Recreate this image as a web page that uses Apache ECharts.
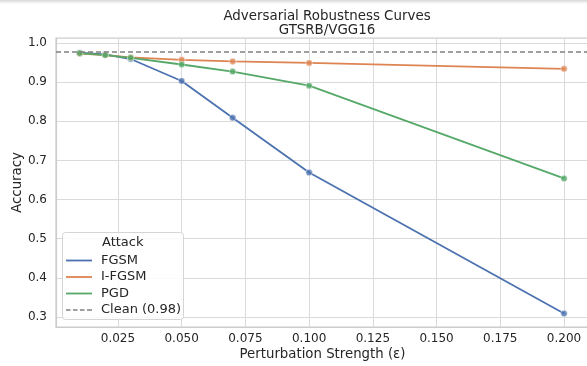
<!DOCTYPE html>
<html>
<head>
<meta charset="utf-8">
<script src="https://cdn.jsdelivr.net/npm/echarts@6/dist/echarts.min.js"></script>
<style>
    html, body { margin: 0; padding: 0; background: #fff; }
    #chart { width: 587px; height: 366px; }
</style>
</head>
<body>
<div id="chart"></div>
<script>
    // 扰动强度 (x)
    var eps = [0.01, 0.02, 0.03, 0.05, 0.07, 0.1, 0.2];
    // 各攻击下的准确率
    var fgsm  = [0.975, 0.971, 0.959, 0.903, 0.809, 0.669, 0.309];
    var ifgsm = [0.973, 0.969, 0.963, 0.957, 0.953, 0.949, 0.934];
    var pgd   = [0.974, 0.969, 0.962, 0.945, 0.927, 0.891, 0.654];
    var cleanAcc = 0.977;
    var attackNames = ['FGSM', 'I-FGSM', 'PGD'];
    var colors = ['#4C72B0', '#DD8452', '#55A868'];
    var xMin = 0.0007, xMax = 0.2098;
    var yMin = 0.2746, yMax = 1.0127;

    function pairs(ys) {
        var out = [];
        for (var i = 0; i < eps.length; i++) out.push([eps[i], ys[i]]);
        return out;
    }
    function near(v, step) {
        return Math.abs(v / step - Math.round(v / step)) < 1e-6;
    }

    var chart = echarts.init(document.getElementById('chart'));
    var font = 'DejaVu Sans';
    var txt = '#262626';
    var fs = 13;
    var cleanName = 'Clean (' + cleanAcc.toFixed(2) + ')';
    // 图例图标：实线 / 虚线
    var solidIcon = 'path://M0,0h26v1.8h-26z';
    var dashIcon = 'path://M0,0h4.5v1.5h-4.5z M7,0h4.5v1.5h-4.5z M14,0h4.5v1.5h-4.5z M21,0h5v1.5h-5z';

    var series = [];
    [fgsm, ifgsm, pgd].forEach(function (ys, k) {
        series.push({
            name: attackNames[k],
            type: 'line',
            data: pairs(ys),
            symbol: 'none',
            lineStyle: {color: colors[k], width: 1.8},
            itemStyle: {color: colors[k]},
            z: 3 + k * 2
        });
        series.push({
            name: attackNames[k] + '_pts',
            type: 'scatter',
            data: pairs(ys),
            symbolSize: 6.5,
            itemStyle: {color: colors[k], borderColor: '#fff', borderWidth: 0.6},
            z: 4 + k * 2
        });
    });
    // 干净样本准确率 (虚线)
    series.push({
        name: cleanName,
        type: 'line',
        data: [[xMin, cleanAcc], [xMax, cleanAcc]],
        symbol: 'none',
        lineStyle: {color: '#808080', width: 1.3, type: [5, 3]},
        itemStyle: {color: '#808080'},
        z: 10
    });

    var legendData = attackNames.map(function (n) { return {name: n, icon: solidIcon}; });
    legendData.push({name: cleanName, icon: dashIcon});

    chart.setOption({
        animation: false,
        backgroundColor: '#fff',
        textStyle: {fontFamily: font},
        title: {
            text: 'Adversarial Robustness Curves\nGTSRB/VGG16',
            left: 322,
            top: 5,
            textAlign: 'center',
            textStyle: {fontFamily: font, fontSize: 13.4, fontWeight: 'normal', color: txt, lineHeight: 14}
        },
        grid: {
            left: 56, right: -2, top: 38, bottom: 39,
            outerBoundsMode: 'none',
            containLabel: false,
            show: true, borderColor: '#cccccc', borderWidth: 1.2
        },
        xAxis: {
            type: 'value',
            min: xMin, max: xMax,
            minInterval: 0.025, maxInterval: 0.025,
            name: 'Perturbation Strength (ε)',
            nameLocation: 'middle',
            nameGap: 21,
            nameMoveOverlap: false,
            nameTextStyle: {fontFamily: font, fontSize: 13.3, color: txt},
            axisLine: {show: true, lineStyle: {color: '#cccccc', width: 1.2}},
            axisTick: {show: false},
            axisLabel: {
                fontFamily: font, fontSize: 12, color: txt, margin: 6,
                showMinLabel: false, showMaxLabel: false,
                formatter: function (v) { return near(v, 0.025) && v > 0.001 ? v.toFixed(3) : ''; }
            },
            splitLine: {show: true, lineStyle: {color: '#dadada', width: 1}}
        },
        yAxis: {
            type: 'value',
            min: yMin, max: yMax,
            minInterval: 0.1, maxInterval: 0.1,
            name: 'Accuracy',
            nameLocation: 'middle',
            nameGap: 32,
            nameMoveOverlap: false,
            nameTextStyle: {fontFamily: font, fontSize: 13.3, color: txt},
            axisLine: {show: true, lineStyle: {color: '#cccccc', width: 1.2}},
            axisTick: {show: false},
            axisLabel: {
                fontFamily: font, fontSize: 12, color: txt, margin: 9,
                showMinLabel: false, showMaxLabel: false,
                formatter: function (v) { return near(v, 0.1) ? v.toFixed(1) : ''; }
            },
            splitLine: {show: true, lineStyle: {color: '#dadada', width: 1}}
        },
        legend: {
            data: legendData,
            orient: 'vertical',
            left: 66,
            top: 254,
            padding: 0,
            itemWidth: 26,
            itemHeight: 14,
            itemGap: 3.5,
            z: 20,
            textStyle: {fontFamily: font, fontSize: fs, color: txt, padding: [0, 0, 0, 4]}
        },
        graphic: [
            {
                type: 'rect', z: 15,
                shape: {x: 62.5, y: 232.5, width: 121, height: 87, r: 3},
                style: {fill: 'rgba(255,255,255,0.85)', stroke: '#d5d5d5', lineWidth: 1}
            },
            {
                type: 'text', z: 16,
                left: 102, top: 236,
                style: {text: 'Attack', font: fs + 'px "DejaVu Sans"', fill: txt}
            },
            {
                type: 'rect', z: 1,
                shape: {x: 0, y: 0, width: 587, height: 4},
                style: {fill: new echarts.graphic.LinearGradient(0, 0, 0, 1, [
                    {offset: 0, color: '#d8d8d8'}, {offset: 1, color: '#ffffff'}
                ])}
            }
        ],
        series: series
    });
</script>
</body>
</html>
